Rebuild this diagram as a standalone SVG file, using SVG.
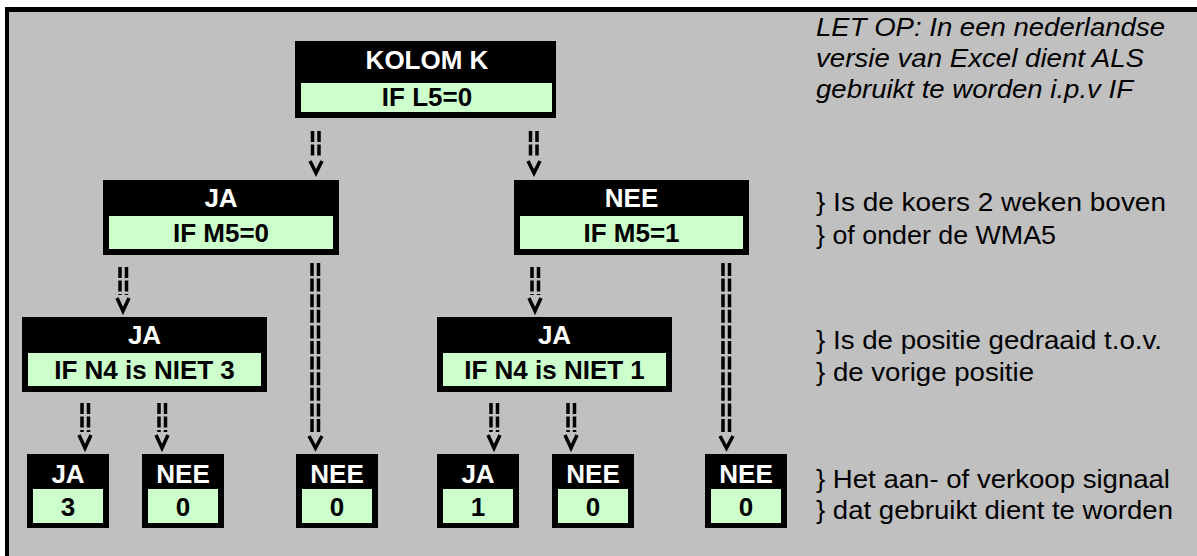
<svg xmlns="http://www.w3.org/2000/svg" width="1197" height="556" viewBox="0 0 1197 556">
<defs>
<style>
.frame{fill:#000}
.cell{fill:#ccffcc}
.hd{font-family:"Liberation Sans",Arial,sans-serif;font-weight:bold;font-size:26px;fill:#fff;text-anchor:middle}
.val{font-family:"Liberation Sans",Arial,sans-serif;font-weight:bold;font-size:26px;fill:#000;text-anchor:middle}
.note{font-family:"Liberation Sans",Arial,sans-serif;font-size:26px;fill:#000}
.it{font-style:italic}
.bar{stroke:#000;stroke-width:3.5;fill:none}
.s{stroke-dasharray:11 2.5}
.l{stroke-dasharray:13 2.6}
.v{stroke:#000;stroke-width:3.5;fill:none}
</style>
</defs>
<rect x="0" y="0" width="1197" height="556" fill="#fff"/>
<rect x="5" y="7" width="1192" height="549" fill="#000"/>
<rect x="9" y="12" width="1188" height="544" fill="#c0c0c0"/>

<g id="connectors">
<g id="a1"><line class="bar s" x1="312.5" y1="131" x2="312.5" y2="156"/><line class="bar s" x1="319" y1="131" x2="319" y2="156"/><polyline class="v" points="310,161 316,173 322,161"/></g>
<g id="a2"><line class="bar s" x1="530.5" y1="131" x2="530.5" y2="156"/><line class="bar s" x1="537" y1="131" x2="537" y2="156"/><polyline class="v" points="528,161 534,173 540,161"/></g>
<g id="a3"><line class="bar s" x1="120" y1="267" x2="120" y2="295"/><line class="bar s" x1="126.5" y1="267" x2="126.5" y2="295"/><polyline class="v" points="117,298 123,311 129,298"/></g>
<g id="a4"><line class="bar l" x1="312" y1="263" x2="312" y2="433"/><line class="bar l" x1="318.5" y1="263" x2="318.5" y2="433"/><polyline class="v" points="309,436 315.5,448 322,436"/></g>
<g id="a5"><line class="bar s" x1="532" y1="267" x2="532" y2="295"/><line class="bar s" x1="538.5" y1="267" x2="538.5" y2="295"/><polyline class="v" points="529,298 535,311 541,298"/></g>
<g id="a6"><line class="bar l" x1="723" y1="263" x2="723" y2="433"/><line class="bar l" x1="729.5" y1="263" x2="729.5" y2="433"/><polyline class="v" points="720,436 726.5,448 733,436"/></g>
<g id="a7"><line class="bar s" x1="82" y1="403" x2="82" y2="432"/><line class="bar s" x1="88.5" y1="403" x2="88.5" y2="432"/><polyline class="v" points="79,435 85,448 91,435"/></g>
<g id="a8"><line class="bar s" x1="159" y1="403" x2="159" y2="432"/><line class="bar s" x1="165.5" y1="403" x2="165.5" y2="432"/><polyline class="v" points="156,435 162,448 168,435"/></g>
<g id="a9"><line class="bar s" x1="491" y1="403" x2="491" y2="432"/><line class="bar s" x1="497.5" y1="403" x2="497.5" y2="432"/><polyline class="v" points="488,435 494,448 500,435"/></g>
<g id="a10"><line class="bar s" x1="568" y1="403" x2="568" y2="432"/><line class="bar s" x1="574.5" y1="403" x2="574.5" y2="432"/><polyline class="v" points="565,435 571,448 577,435"/></g>
</g>

<g id="kolomK">
<rect class="frame" x="295" y="41" width="261" height="77"/>
<rect class="cell" x="301" y="83" width="251" height="29"/>
<text class="hd" x="427" y="69">KOLOM K</text>
<text class="val" x="427" y="106">IF L5=0</text>
</g>
<g id="jaM5">
<rect class="frame" x="103" y="180" width="236" height="75"/>
<rect class="cell" x="109" y="216" width="224" height="33"/>
<text class="hd" x="221" y="207">JA</text>
<text class="val" x="221" y="242">IF M5=0</text>
</g>
<g id="neeM5">
<rect class="frame" x="514" y="180" width="235" height="75"/>
<rect class="cell" x="520" y="216" width="223" height="33"/>
<text class="hd" x="631.5" y="207">NEE</text>
<text class="val" x="631.5" y="242">IF M5=1</text>
</g>
<g id="jaN4a">
<rect class="frame" x="22" y="317" width="245" height="75"/>
<rect class="cell" x="28" y="353" width="233" height="33"/>
<text class="hd" x="144.5" y="344">JA</text>
<text class="val" x="144.5" y="379">IF N4 is NIET 3</text>
</g>
<g id="jaN4b">
<rect class="frame" x="437" y="317" width="235" height="75"/>
<rect class="cell" x="443" y="353" width="223" height="33"/>
<text class="hd" x="554.5" y="344">JA</text>
<text class="val" x="554.5" y="379">IF N4 is NIET 1</text>
</g>
<g id="leaf1">
<rect class="frame" x="27" y="454" width="82" height="74"/>
<rect class="cell" x="33" y="489" width="70" height="34"/>
<text class="hd" x="68" y="483">JA</text>
<text class="val" x="68" y="516">3</text>
</g>
<g id="leaf2">
<rect class="frame" x="142" y="454" width="82" height="74"/>
<rect class="cell" x="148" y="489" width="70" height="34"/>
<text class="hd" x="183" y="483">NEE</text>
<text class="val" x="183" y="516">0</text>
</g>
<g id="leaf3">
<rect class="frame" x="296" y="454" width="82" height="74"/>
<rect class="cell" x="302" y="489" width="70" height="34"/>
<text class="hd" x="337" y="483">NEE</text>
<text class="val" x="337" y="516">0</text>
</g>
<g id="leaf4">
<rect class="frame" x="437" y="454" width="82" height="74"/>
<rect class="cell" x="443" y="489" width="70" height="34"/>
<text class="hd" x="478" y="483">JA</text>
<text class="val" x="478" y="516">1</text>
</g>
<g id="leaf5">
<rect class="frame" x="552" y="454" width="82" height="74"/>
<rect class="cell" x="558" y="489" width="70" height="34"/>
<text class="hd" x="593" y="483">NEE</text>
<text class="val" x="593" y="516">0</text>
</g>
<g id="leaf6">
<rect class="frame" x="705" y="454" width="82" height="74"/>
<rect class="cell" x="711" y="489" width="70" height="34"/>
<text class="hd" x="746" y="483">NEE</text>
<text class="val" x="746" y="516">0</text>
</g>

<g id="notes">
<text class="note it" x="816" y="36" textLength="349" lengthAdjust="spacingAndGlyphs">LET OP: In een nederlandse</text>
<text class="note it" x="816" y="67" textLength="328" lengthAdjust="spacingAndGlyphs">versie van Excel dient ALS</text>
<text class="note it" x="816" y="98" textLength="317" lengthAdjust="spacingAndGlyphs">gebruikt te worden i.p.v IF</text>
<text class="note" x="816" y="211" textLength="350" lengthAdjust="spacingAndGlyphs">} Is de koers 2 weken boven</text>
<text class="note" x="816" y="244" textLength="240" lengthAdjust="spacingAndGlyphs">} of onder de WMA5</text>
<text class="note" x="816" y="349" textLength="346" lengthAdjust="spacingAndGlyphs">} Is de positie gedraaid t.o.v.</text>
<text class="note" x="816" y="381" textLength="218" lengthAdjust="spacingAndGlyphs">} de vorige positie</text>
<text class="note" x="816" y="488" textLength="354" lengthAdjust="spacingAndGlyphs">} Het aan- of verkoop signaal</text>
<text class="note" x="816" y="519" textLength="357" lengthAdjust="spacingAndGlyphs">} dat gebruikt dient te worden</text>
</g>
</svg>
